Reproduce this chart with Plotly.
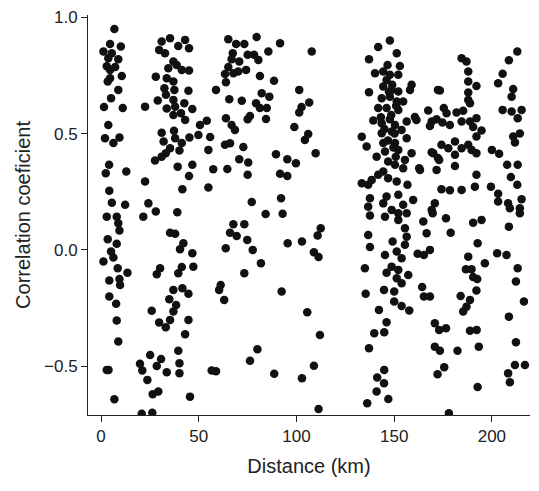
import plotly.graph_objects as go

# distance between station pairs (km) and their correlation coefficient
distance_km = [
    # 0-15 km
    6.8, 4.6, 10.1, 1.2, 5.5, 3.7, 8.8, 2.9, 7.2, 4.6, 10.6, 4.6, 3.4, 8.8, 5.1, 1.5, 11.1, 3.7,
    2.0, 6.3, 9.4, 4.1, 2.4, 12.9, 4.2, 5.5, 12.3, 2.9, 8.0, 8.8, 9.4, 3.4, 8.0, 5.1, 6.3, 1.2,
    8.5, 13.5, 4.2, 9.4, 9.7, 4.2, 7.7, 8.0, 8.8, 2.9, 3.8, 6.8,
    # 20-50 km
    31.0, 35.3, 43.0, 29.7, 32.7, 39.5, 45.0, 37.0, 34.4, 38.7, 41.3, 45.0, 28.0, 33.6, 37.0,
    32.4, 37.5, 44.7, 33.2, 29.0, 37.0, 42.6, 37.9, 33.6, 22.5, 46.7, 40.9, 37.0, 43.0, 50.6,
    31.0, 37.3, 49.8, 32.0, 37.9, 41.3, 45.2, 35.3, 33.1, 31.0, 40.1, 27.6, 46.7, 39.2, 45.0,
    22.5, 41.6, 24.2, 28.0, 39.0, 21.6,
    35.3, 37.9, 42.1, 40.4, 46.7, 30.2, 28.5, 41.3, 39.5, 47.2, 37.0, 41.6, 44.7, 34.9, 38.4,
    37.0, 25.9, 35.3, 29.7, 33.1, 44.7, 43.0, 25.1, 30.7, 39.5, 19.9, 21.1, 28.5, 33.6, 40.1,
    40.1, 23.7, 29.3, 26.4, 45.5, 20.8, 26.2,
    # 50-115 km
    65.1, 79.6, 69.1, 73.3, 91.6, 107.8, 85.6, 67.4, 75.0, 78.3, 66.8, 80.5, 70.7, 65.1, 70.2,
    74.2, 67.7, 63.4, 81.3, 63.9, 88.5, 58.8, 101.4, 65.6, 72.0, 82.2, 86.1, 79.3, 81.3, 84.8,
    102.6, 106.5, 101.4, 63.9, 76.2, 75.0, 84.4, 54.1, 66.8, 68.5, 98.9, 55.8, 106.0, 104.3,
    63.4, 66.0, 72.8, 54.9, 89.5, 95.3, 99.7, 109.8, 70.7, 75.3, 57.4, 64.6, 75.0, 91.6, 95.3,
    54.9, 77.1, 92.1, 84.2, 92.9,
    67.7, 73.3, 66.0, 69.4, 74.8, 63.8, 77.6, 81.8, 73.3, 61.2, 60.4, 63.0, 92.4, 95.5, 102.8,
    112.4, 110.8, 108.9, 111.3, 105.5, 112.0, 80.0, 76.2, 56.6, 58.8, 88.6, 102.8, 108.9, 111.3,
    # 130-167 km
    147.8, 141.8, 151.3, 137.1, 146.6, 152.9, 140.2, 144.4, 147.8, 152.1, 146.1, 158.9, 158.1,
    137.1, 144.4, 148.7, 152.1, 143.6, 147.8, 151.3, 154.6, 141.8, 146.1, 152.1, 167.4, 139.3,
    143.6, 147.8, 150.4, 156.4, 160.6, 161.4,
    133.4, 135.9, 143.6, 148.7, 153.8, 156.4, 144.4, 150.4, 145.3, 152.1, 141.0, 158.9, 146.9,
    155.5, 150.4, 163.2, 144.4, 154.6, 141.8, 138.5, 133.4, 146.9, 151.3, 156.8, 136.7, 137.6,
    146.1, 152.1, 159.7, 136.7, 144.4, 154.6, 148.7, 152.1, 156.4, 137.6, 145.3, 152.1, 164.9,
    155.5, 156.4, 136.7, 149.2, 155.5, 137.6, 151.3, 145.3, 153.8, 162.0, 166.6, 165.2, 135.0,
    148.7, 152.1, 146.1, 157.2, 151.3, 153.8, 164.3, 135.4, 144.8, 150.0, 165.2, 150.0, 153.8,
    157.7, 142.2,
    146.1, 139.8, 144.9, 137.1, 144.9, 141.3, 144.8, 141.0, 147.0, 136.2,
    172.4, 169.2, 169.2, 172.4, 169.7, 162.8,
    148.5, 150.2, 146.8, 149.6, 145.0, 151.0, 147.3, 149.0, 143.2, 150.8,
    # 168-217 km
    213.0, 208.7, 184.5, 187.0, 205.5, 203.2, 187.9, 187.9, 192.1, 173.4, 187.9, 210.9, 210.1,
    187.9, 188.8, 175.4, 205.5, 210.1, 215.2, 213.2, 176.8, 181.9, 185.3, 171.7, 174.7, 178.5,
    184.5, 188.8, 192.1, 190.4, 194.7, 192.1, 214.3, 210.9, 211.8, 168.3, 174.2, 177.7, 181.1,
    184.5, 187.9, 189.6, 192.1, 170.0, 181.1, 173.0, 181.1, 200.0, 203.7, 171.7, 207.8, 213.2,
    192.1, 209.7, 213.0, 174.2, 178.5, 184.5, 191.3, 199.5, 203.2, 203.2, 208.3, 215.2, 214.3,
    214.3, 209.2, 170.8, 169.2, 176.5, 190.4, 194.7, 208.7,
    178.9, 192.7, 202.7, 207.5, 213.2, 187.9, 196.4, 186.7, 189.6, 190.4, 192.5, 212.3, 192.1,
    184.0, 188.8, 187.0, 185.3, 216.4, 208.7, 170.8, 173.0, 176.5, 188.8, 192.2, 212.3, 170.8,
    173.4, 182.4, 193.3, 175.6, 172.2, 211.8, 216.9, 208.3, 209.2, 192.7, 178.0, 168.3, 168.3,
]

corr_coef = [
    # 0-15 km
    0.95, 0.885, 0.875, 0.853, 0.846, 0.824, 0.82, 0.79, 0.786, 0.774, 0.748, 0.738, 0.724,
    0.688, 0.652, 0.614, 0.61, 0.537, 0.48, 0.46, 0.483, 0.366, 0.33, 0.337, 0.254, 0.203,
    0.194, 0.143, 0.143, 0.115, 0.083, 0.046, 0.026, -0.007, -0.033, -0.05, -0.079, -0.098,
    -0.132, -0.125, -0.151, -0.2, -0.232, -0.304, -0.394, -0.516, -0.516, -0.642,
    # 20-50 km
    0.896, 0.91, 0.903, 0.86, 0.846, 0.877, 0.867, 0.81, 0.781, 0.795, 0.774, 0.771, 0.745,
    0.738, 0.724, 0.695, 0.688, 0.684, 0.667, 0.642, 0.645, 0.631, 0.616, 0.608, 0.616, 0.606,
    0.588, 0.58, 0.559, 0.537, 0.504, 0.512, 0.494, 0.466, 0.48, 0.46, 0.483, 0.437, 0.416,
    0.401, 0.427, 0.384, 0.366, 0.358, 0.318, 0.294, 0.261, 0.2, 0.165, 0.162, 0.143,
    0.074, 0.069, 0.029, 0.003, -0.014, -0.079, -0.105, -0.074, -0.1, -0.072, -0.172, -0.165,
    -0.189, -0.212, -0.237, -0.265, -0.262, -0.301, -0.312, -0.333, -0.301, -0.363, -0.452,
    -0.469, -0.434, -0.49, -0.519, -0.499, -0.526, -0.487, -0.53, -0.559, -0.609, -0.621,
    -0.631, -0.705, -0.7,
    # 50-115 km
    0.906, 0.915, 0.885, 0.885, 0.889, 0.853, 0.853, 0.846, 0.839, 0.839, 0.82, 0.817, 0.81,
    0.786, 0.767, 0.774, 0.76, 0.756, 0.748, 0.721, 0.727, 0.688, 0.688, 0.648, 0.641, 0.674,
    0.659, 0.631, 0.61, 0.61, 0.614, 0.634, 0.591, 0.566, 0.576, 0.562, 0.563, 0.555, 0.537,
    0.516, 0.528, 0.485, 0.498, 0.473, 0.452, 0.459, 0.442, 0.43, 0.411, 0.39, 0.373, 0.416,
    0.39, 0.376, 0.347, 0.348, 0.323, 0.327, 0.318, 0.268, 0.206, 0.222, 0.154, 0.155,
    0.11, 0.11, 0.074, 0.06, 0.043, 0.007, 0.0, -0.057, -0.1, -0.151, -0.172, -0.215, -0.179,
    0.029, 0.036, 0.093, 0.062, -0.01, -0.031, -0.268, -0.366, -0.427, -0.477, -0.519, -0.522,
    -0.533, -0.552, -0.498, -0.684,
    # 130-167 km
    0.9, 0.872, 0.846, 0.82, 0.795, 0.791, 0.76, 0.767, 0.753, 0.753, 0.731, 0.71, 0.688,
    0.678, 0.703, 0.688, 0.681, 0.652, 0.659, 0.638, 0.638, 0.61, 0.61, 0.602, 0.599, 0.556,
    0.545, 0.562, 0.537, 0.552, 0.571, 0.559,
    0.487, 0.445, 0.502, 0.509, 0.516, 0.48, 0.46, 0.46, 0.423, 0.43, 0.401, 0.416, 0.38,
    0.387, 0.366, 0.344, 0.337, 0.351, 0.323, 0.301, 0.287, 0.308, 0.294, 0.28, 0.28, 0.222,
    0.23, 0.237, 0.215, 0.186, 0.2, 0.194, 0.172, 0.158, 0.158, 0.148, 0.143, 0.129, 0.122,
    0.093, 0.057, 0.064, 0.036, 0.022, 0.012, -0.007, -0.022, -0.036, -0.017, 0.072, -0.022,
    -0.079, -0.072, -0.086, -0.098, -0.108, -0.122, -0.143, -0.16, -0.189, -0.172, -0.179,
    -0.2, -0.222, -0.241, -0.261, -0.258,
    -0.311, -0.358, -0.354, -0.423, -0.516, -0.549, -0.573, -0.609, -0.641, -0.659,
    0.688, 0.552, 0.42, 0.395, 0.158, 0.351,
    0.58, 0.5, 0.47, 0.44, 0.52, 0.62, 0.68, 0.71, 0.57, 0.4,
    # 168-217 km
    0.853, 0.815, 0.824, 0.81, 0.757, 0.717, 0.767, 0.724, 0.705, 0.685, 0.677, 0.692, 0.659,
    0.645, 0.631, 0.61, 0.602, 0.595, 0.602, 0.566, 0.588, 0.591, 0.598, 0.562, 0.548, 0.537,
    0.552, 0.552, 0.566, 0.528, 0.513, 0.488, 0.5, 0.488, 0.462, 0.533, 0.452, 0.437, 0.466,
    0.437, 0.452, 0.43, 0.416, 0.416, 0.409, 0.387, 0.361, 0.43, 0.413, 0.344, 0.366, 0.366,
    0.323, 0.313, 0.28, 0.261, 0.256, 0.258, 0.272, 0.272, 0.241, 0.208, 0.201, 0.218, 0.179,
    0.158, 0.179, 0.201, 0.172, 0.136, 0.117, 0.129, 0.1,
    0.074, 0.029, -0.014, -0.022, -0.079, -0.029, -0.057, -0.083, -0.083, -0.117, -0.125,
    -0.136, -0.175, -0.198, -0.215, -0.244, -0.265, -0.222, -0.287, -0.315, -0.344, -0.337,
    -0.348, -0.344, -0.397, -0.416, -0.434, -0.434, -0.416, -0.505, -0.535, -0.495, -0.495,
    -0.531, -0.569, -0.59, -0.703, 0.0, -0.2,
]

font = "Liberation Sans, Arial, sans-serif"

fig = go.Figure(
    go.Scatter(
        x=distance_km,
        y=corr_coef,
        mode="markers",
        marker=dict(size=8.5, color="#111111", line=dict(width=0)),
        showlegend=False,
    )
)

axis_style = dict(
    showline=True,
    linecolor="#222222",
    linewidth=1,
    ticks="outside",
    ticklen=6,
    tickcolor="#222222",
    showgrid=False,
    zeroline=False,
    automargin=False,
    tickfont=dict(family=font, size=17, color="#222222"),
)

fig.update_xaxes(
    range=[-6.7, 219.5],
    tickvals=[0, 50, 100, 150, 200],
    title=dict(text="Distance (km)", font=dict(family=font, size=20, color="#222222"), standoff=13),
    **axis_style,
)
fig.update_yaxes(
    range=[-0.71, 1.01],
    tickvals=[-0.5, 0.0, 0.5, 1.0],
    tickformat=".1f",
    title=dict(text="Correlation coeficient", font=dict(family=font, size=20, color="#222222"), standoff=8),
    **axis_style,
)

# the page adds an 8 px body margin, so the figure is a bit smaller than the window
fig.update_layout(
    width=531,
    height=483,
    margin=dict(l=80, r=9, t=7, b=76),
    plot_bgcolor="white",
    paper_bgcolor="white",
)

fig.write_html("out.html")
